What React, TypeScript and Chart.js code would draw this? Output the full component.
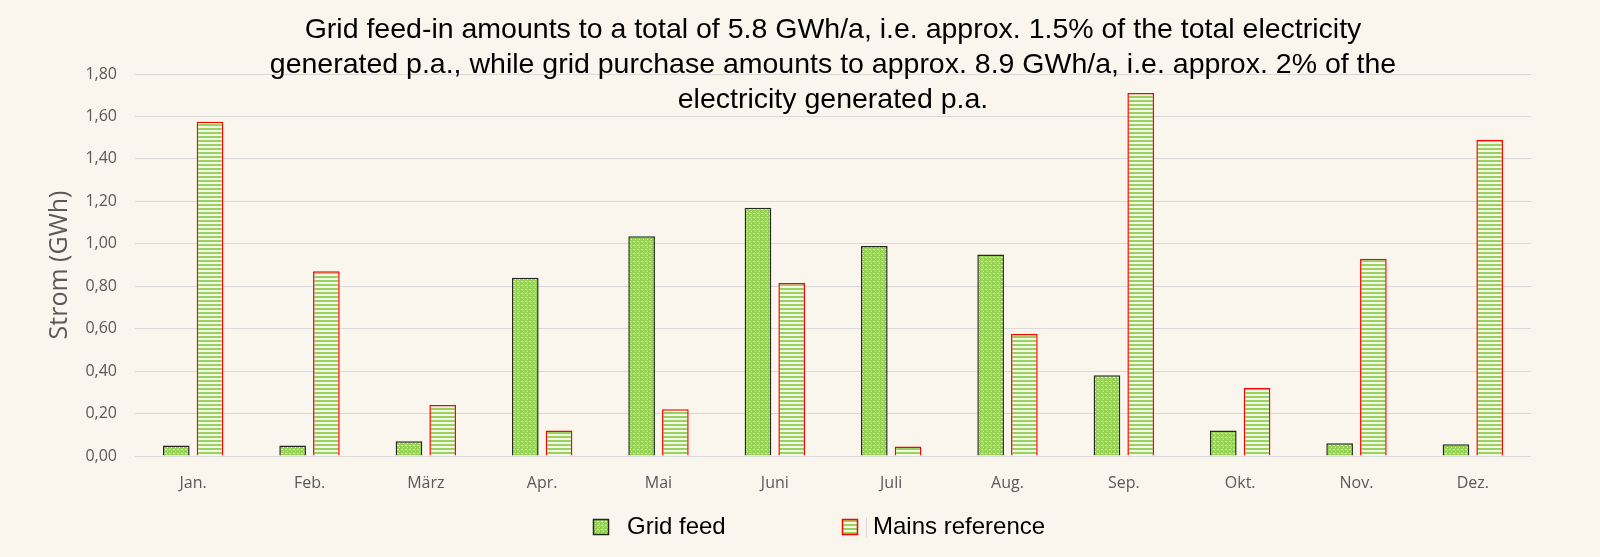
import React, { useEffect, useRef } from "react";
import { Chart, registerables } from "chart.js";

Chart.register(...registerables);

const months = ["Jan.", "Feb.", "März", "Apr.", "Mai", "Juni", "Juli", "Aug.", "Sep.", "Okt.", "Nov.", "Dez."];
const gridFeed = [0.05, 0.05, 0.07, 0.84, 1.035, 1.17, 0.99, 0.95, 0.38, 0.12, 0.06, 0.055];
const mainsReference = [1.575, 0.87, 0.24, 0.12, 0.22, 0.815, 0.045, 0.575, 1.71, 0.32, 0.93, 1.49];
const yTicks = [0, 0.2, 0.4, 0.6, 0.8, 1.0, 1.2, 1.4, 1.6, 1.8];
const seriesNames = ["Grid feed", "Mains reference"];
const titleLines = [
  "Grid feed-in amounts to a total of 5.8 GWh/a, i.e. approx. 1.5% of the total electricity",
  "generated p.a., while grid purchase amounts to approx. 8.9 GWh/a, i.e. approx. 2% of the",
  "electricity generated p.a.",
];
const yTitle = "Strom (GWh)";

const BG = "#FAF6EE";
const GREEN = "#92D050";

function makeDotPattern(ctx: CanvasRenderingContext2D) {
  const c = document.createElement("canvas");
  c.width = 4;
  c.height = 4;
  const g = c.getContext("2d")!;
  g.fillStyle = GREEN;
  g.fillRect(0, 0, 4, 4);
  g.fillStyle = "#EEF8E2";
  g.fillRect(1, 1, 2, 1);
  g.fillRect(3, 3, 1, 1);
  return ctx.createPattern(c, "repeat")!;
}

function makeStripePattern(ctx: CanvasRenderingContext2D) {
  const c = document.createElement("canvas");
  c.width = 4;
  c.height = 4;
  const g = c.getContext("2d")!;
  g.fillStyle = "#F3FAEA";
  g.fillRect(0, 0, 4, 4);
  g.fillStyle = "#98D15C";
  g.fillRect(0, 0, 4, 2);
  return ctx.createPattern(c, "repeat")!;
}

export default function App() {
  const ref = useRef<HTMLCanvasElement | null>(null);

  useEffect(() => {
    const canvas = ref.current!;
    const ctx = canvas.getContext("2d")!;
    const dots = makeDotPattern(ctx);
    const stripes = makeStripePattern(ctx);

    const overlay = {
      id: "overlay",
      beforeDraw(chart: any) {
        const c = chart.ctx;
        c.save();
        c.fillStyle = BG;
        c.fillRect(0, 0, chart.width, chart.height);
        c.restore();
      },
      afterDraw(chart: any) {
        const c = chart.ctx as CanvasRenderingContext2D;
        const area = chart.chartArea;
        c.save();
        // title
        c.fillStyle = "#000000";
        c.font = "28.5px 'Liberation Sans', Arial, sans-serif";
        c.textAlign = "center";
        c.textBaseline = "middle";
        const cx = (area.left + area.right) / 2;
        titleLines.forEach((l, i) => c.fillText(l, cx, 30 + i * 35));
        // legend
        const ly = 527;
        c.font = "24px 'Liberation Sans', Arial, sans-serif";
        c.textAlign = "left";
        const items = [
          { x: 593, fill: dots, stroke: "#262626", text: seriesNames[0], tx: 627 },
          { x: 842, fill: stripes, stroke: "#FF0000", text: seriesNames[1], tx: 873 },
        ];
        items.forEach((it) => {
          c.fillStyle = it.fill as any;
          c.fillRect(it.x, ly - 8, 16, 16);
          c.strokeStyle = it.stroke;
          c.lineWidth = 1.5;
          c.strokeRect(it.x + 0.5, ly - 7.5, 15, 15);
          c.fillStyle = "#000000";
          c.fillText(it.text, it.tx, ly);
        });
        c.fillStyle = "#D9D9D9";
        c.fillRect(866, ly - 10, 1, 20);
        c.restore();
      },
    };

    const chart = new Chart(canvas, {
      type: "bar",
      data: {
        labels: months,
        datasets: [
          {
            label: seriesNames[0],
            data: gridFeed,
            backgroundColor: dots as any,
            borderColor: "#262626",
            borderWidth: 1.5,
          },
          {
            label: seriesNames[1],
            data: mainsReference,
            backgroundColor: stripes as any,
            borderColor: "#FF0000",
            borderWidth: 1.5,
          },
        ],
      },
      options: {
        responsive: false,
        animation: false,
        layout: { padding: { left: 0, right: 69, top: 74, bottom: 61 } },
        datasets: { bar: { categoryPercentage: 0.58, barPercentage: 0.79 } },
        plugins: {
          legend: { display: false },
          title: { display: false },
          tooltip: { enabled: false },
        },
        scales: {
          x: {
            grid: { display: false },
            border: { display: false },
            ticks: {
              padding: 10,
              color: "#595959",
              font: { family: "'Open Sans', sans-serif", size: 16 },
              maxRotation: 0,
            },
            afterFit: (s: any) => {
              s.height = 40;
            },
          },
          y: {
            min: 0,
            max: 1.8,
            border: { display: false },
            grid: { color: "#D9D9D9", lineWidth: 1, drawTicks: false },
            afterBuildTicks: (s: any) => {
              s.ticks = yTicks.map((v) => ({ value: v }));
            },
            ticks: {
              padding: 18,
              color: "#595959",
              font: { family: "'Open Sans', sans-serif", size: 16 },
              callback: (v: any) => Number(v).toFixed(2).replace(".", ","),
            },
            title: {
              display: true,
              text: yTitle,
              color: "#595959",
              font: { family: "'Open Sans', sans-serif", size: 25, weight: "normal" },
              padding: { top: 45, bottom: 0 },
            },
            afterFit: (s: any) => {
              s.width = 135;
            },
          },
        },
      },
      plugins: [overlay],
    });
    return () => chart.destroy();
  }, []);

  return (
    <div style={{ position: "fixed", left: 0, top: 0, width: 1600, height: 557, background: BG }}>
      <canvas ref={ref} width={1600} height={557} style={{ display: "block" }} />
    </div>
  );
}
